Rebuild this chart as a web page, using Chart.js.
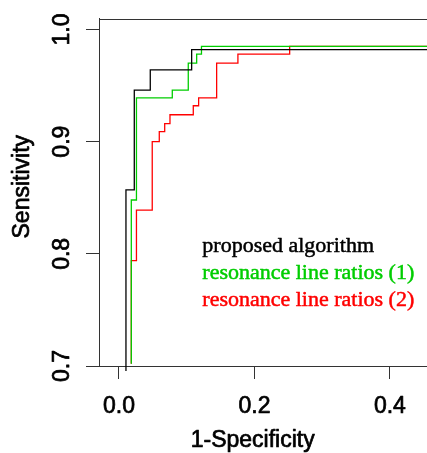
<!DOCTYPE html>
<html>
<head>
<meta charset="utf-8">
<script src="https://cdn.jsdelivr.net/npm/chart.js@4.4.1/dist/chart.umd.min.js"></script>
<style>
  html, body { margin: 0; padding: 0; background: #fff; overflow: hidden; }
  #wrap { position: relative; width: 427px; height: 453px; overflow: hidden; }
  #box { position: absolute; left: 0; top: 0; width: 470px; height: 453px; }
</style>
</head>
<body>
<div id="wrap"><div id="box"><canvas id="c"></canvas></div></div>
<script>
// ---- data ----
const seriesNames = ["proposed algorithm", "resonance line ratios (1)", "resonance line ratios (2)"];
const seriesColors = ["#000000", "#00CD00", "#FF0000"];

// step corner points: 1-Specificity (x) and Sensitivity (y)
const proposedX = [0.0103, 0.0103, 0.0226, 0.0462, 0.1073, 0.60];
const proposedY = [0.690,  0.857,  0.946,  0.964,  0.982,  0.982];

const ratios1X = [0.0182, 0.0182, 0.0258, 0.0787, 0.1023, 0.1147, 0.1218, 0.60];
const ratios1Y = [0.702,  0.848,  0.939,  0.946,  0.970,  0.978,  0.985,  0.985];

const ratios2X = [0.0182, 0.0182, 0.0258, 0.0491, 0.0595, 0.0675, 0.0753, 0.1097, 0.1176, 0.1442, 0.1756, 0.2520, 0.60];
const ratios2Y = [0.702,  0.794,  0.839,  0.900,  0.909,  0.916,  0.924,  0.932,  0.939,  0.970,  0.978,  0.985,  0.985];

const xTicks = [0.0, 0.2, 0.4];
const yTicks = [0.7, 0.8, 0.9, 1.0];
const xTitle = "1-Specificity";
const yTitle = "Sensitivity";

const xRange = [-0.0295, 0.5035];
const yRange = [0.7, 1.0098];

// ---- build ----
function pts(xs, ys) { return xs.map((v, i) => ({ x: v, y: ys[i] })); }

const SANS = '"Liberation Sans", Arial, Helvetica, sans-serif';
const SERIF = '"Liberation Serif", "Times New Roman", serif';
const AXIS = '#333333';

function heavyText(ctx, txt, x, y, w) {
  ctx.lineWidth = w;
  ctx.lineJoin = 'round';
  ctx.strokeStyle = ctx.fillStyle;
  ctx.strokeText(txt, x, y);
  ctx.fillText(txt, x, y);
}

const textPlugin = {
  id: 'rtext',
  afterDraw(chart) {
    const { ctx, chartArea: a } = chart;
    const xs = chart.scales.x, ys = chart.scales.y;
    ctx.save();
    // plot box
    ctx.strokeStyle = AXIS;
    ctx.lineWidth = 1;
    const L = Math.round(a.left) + 0.5, T = Math.round(a.top) + 0.5;
    const R = Math.round(a.right) + 0.5, B = Math.round(a.bottom) + 0.5;
    ctx.beginPath();
    ctx.moveTo(L, B); ctx.lineTo(L, T); ctx.lineTo(R, T); ctx.lineTo(R, B);
    ctx.stroke();

    ctx.fillStyle = '#000';
    // x tick labels
    ctx.font = '23px ' + SANS;
    ctx.textAlign = 'center';
    ctx.textBaseline = 'alphabetic';
    xTicks.forEach(v => heavyText(ctx, v.toFixed(1), xs.getPixelForValue(v), a.bottom + 47, 0.7));
    // y tick labels (rotated)
    yTicks.forEach(v => {
      ctx.save();
      ctx.translate(a.left - 30, ys.getPixelForValue(v));
      ctx.rotate(-Math.PI / 2);
      heavyText(ctx, v.toFixed(1), 0, 0, 0.7);
      ctx.restore();
    });
    // axis titles
    heavyText(ctx, xTitle, 252.7, a.bottom + 80.5, 0.7);
    ctx.save();
    ctx.translate(28.7, 186.7);
    ctx.rotate(-Math.PI / 2);
    heavyText(ctx, yTitle, 0, 0, 0.7);
    ctx.restore();

    // legend
    ctx.font = '22px ' + SERIF;
    ctx.textAlign = 'left';
    const base = [251.7, 279.3, 306.3];
    chart.data.datasets.forEach((ds, i) => {
      ctx.fillStyle = ds.borderColor;
      heavyText(ctx, ds.label, 202.3, base[i], 0.5);
    });
    ctx.restore();
  }
};

const datasets = [
  { label: seriesNames[0], data: pts(proposedX, proposedY), borderColor: seriesColors[0], order: 0,
    clip: { left: 0, top: 0, right: 0, bottom: 5 } },
  { label: seriesNames[1], data: pts(ratios1X, ratios1Y), borderColor: seriesColors[1], order: 1, clip: 0 },
  { label: seriesNames[2], data: pts(ratios2X, ratios2Y), borderColor: seriesColors[2], order: 2, clip: 0 }
].map(d => Object.assign({
  stepped: 'before', borderWidth: 1.3, pointRadius: 0, fill: false, tension: 0
}, d));

new Chart(document.getElementById('c'), {
  type: 'line',
  data: { datasets },
  options: {
    responsive: true,
    maintainAspectRatio: false,
    animation: false,
    events: [],
    layout: { padding: { left: 0, top: 18.5, right: 10, bottom: 0 } },
    plugins: { legend: { display: false }, tooltip: { enabled: false } },
    scales: {
      x: {
        type: 'linear', min: xRange[0], max: xRange[1],
        afterBuildTicks: s => { s.ticks = xTicks.map(v => ({ value: v })); },
        afterFit: s => { s.height = 87; },
        ticks: { display: false },
        grid: { drawOnChartArea: false, drawTicks: true, tickLength: 13, color: AXIS, lineWidth: 1 },
        border: { display: true, color: AXIS, width: 1 }
      },
      y: {
        type: 'linear', min: yRange[0], max: yRange[1],
        afterBuildTicks: s => { s.ticks = yTicks.map(v => ({ value: v })); },
        afterFit: s => { s.width = 99; },
        ticks: { display: false },
        grid: { drawOnChartArea: false, drawTicks: true, tickLength: 13, color: AXIS, lineWidth: 1 },
        border: { display: true, color: AXIS, width: 1 }
      }
    }
  },
  plugins: [textPlugin]
});
</script>
</body>
</html>
